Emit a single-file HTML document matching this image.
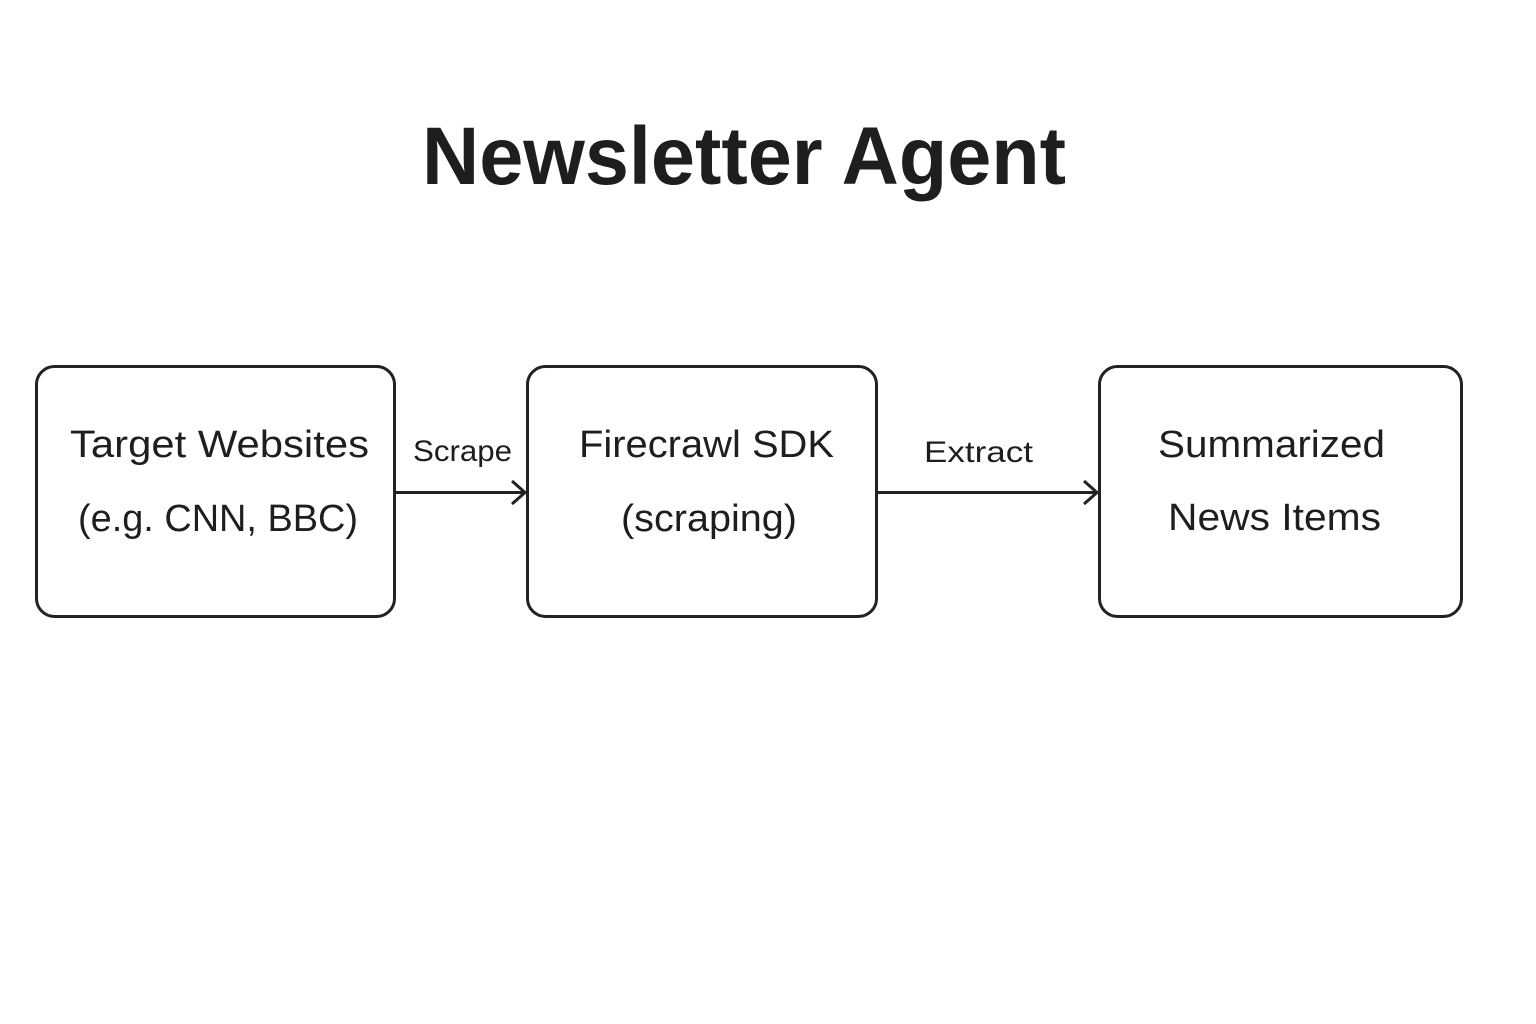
<!DOCTYPE html>
<html><head><meta charset="utf-8"><style>html,body{margin:0;padding:0;background:#fff}svg{display:block}</style></head>
<body>
<svg width="1536" height="1024" viewBox="0 0 1536 1024" xmlns="http://www.w3.org/2000/svg" font-family="Liberation Sans, sans-serif" fill="#1e1e1e">
<rect width="1536" height="1024" fill="#fff"/>
<text x="422" y="184" font-size="82" font-weight="bold" textLength="644" lengthAdjust="spacingAndGlyphs">Newsletter Agent</text>
<g fill="none" stroke="#222" stroke-width="3">
<rect x="36.5" y="366.5" width="358" height="250" rx="18"/>
<rect x="527.5" y="366.5" width="349" height="250" rx="18"/>
<rect x="1099.5" y="366.5" width="362" height="250" rx="18"/>
<line x1="395" y1="492.5" x2="524" y2="492.5"/>
<polyline points="512,481 525,492.5 512,504"/>
<line x1="877" y1="492.5" x2="1096" y2="492.5"/>
<polyline points="1084,481 1097,492.5 1084,504"/>
</g>
<g font-size="38">
<text x="70" y="457" textLength="299" lengthAdjust="spacingAndGlyphs">Target Websites</text>
<text x="78" y="531" textLength="280" lengthAdjust="spacingAndGlyphs">(e.g. CNN, BBC)</text>
<text x="579" y="457" textLength="255" lengthAdjust="spacingAndGlyphs">Firecrawl SDK</text>
<text x="621" y="531" textLength="176" lengthAdjust="spacingAndGlyphs">(scraping)</text>
<text x="1158" y="457" textLength="227" lengthAdjust="spacingAndGlyphs">Summarized</text>
<text x="1168" y="530" textLength="213" lengthAdjust="spacingAndGlyphs">News Items</text>
</g>
<g font-size="30">
<text x="413" y="461" textLength="99" lengthAdjust="spacingAndGlyphs">Scrape</text>
<text x="924" y="462" textLength="109" lengthAdjust="spacingAndGlyphs">Extract</text>
</g>
</svg>
</body></html>
